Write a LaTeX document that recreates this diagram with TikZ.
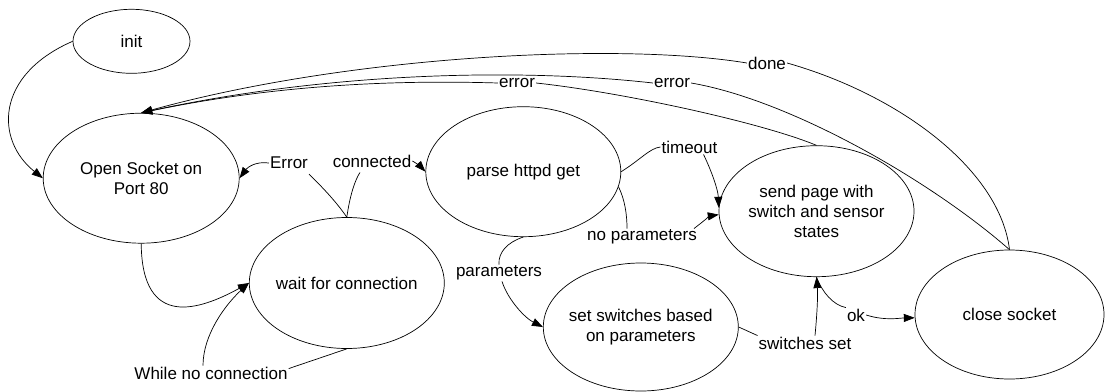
\documentclass[tikz,border=0pt]{standalone}
\usepackage{fontspec}
\setmainfont{Liberation Sans}
\usetikzlibrary{shapes.geometric,arrows.meta}
\begin{document}
\begin{tikzpicture}[x=1pt,y=-1pt,
  st/.style={draw, ellipse, line width=0.7pt, inner xsep=-20pt, inner ysep=-20pt, align=center, font=\fontsize{17}{20}\selectfont},
  lbl/.style={inner sep=1pt, font=\fontsize{17}{20}\selectfont},
  conn/.style={line width=0.7pt},
  arr/.style={conn, -{Triangle[length=11pt,width=8pt]}}]
\useasboundingbox (0,0) rectangle (1105,391);

\node[st, minimum width=117pt, minimum height=64pt] (init) at (131.5,41.3) {init};
\node[st, minimum width=196pt, minimum height=130pt] (open) at (141.2,178.2) {Open Socket on\\Port 80};
\node[st, minimum width=195pt, minimum height=131pt] (wait) at (346.8,283) {wait for connection};
\node[st, minimum width=195pt, minimum height=130pt] (parse) at (523.3,171.7) {parse httpd get};
\node[st, minimum width=195pt, minimum height=128pt] (setsw) at (640.8,327) {set switches based\\on parameters};
\node[st, minimum width=195pt, minimum height=131pt] (send) at (816.5,211.2) {send page with\\switch and sensor\\states};
\node[st, minimum width=189pt, minimum height=129pt] (close) at (1009.5,314.5) {close socket};

\node[lbl] (lerr1) at (289,163) {Error};
\node[lbl] (lconn) at (372,161) {connected};
\node[lbl] (lwnc) at (211,373) {While no connection};
\node[lbl] (ltime) at (689.5,147) {timeout};
\node[lbl] (lnop) at (642,237) {no parameters};
\node[lbl] (lpar) at (499,273) {parameters};
\node[lbl] (lsws) at (805,343) {switches set};
\node[lbl] (lok) at (856,315) {ok};
\node[lbl] (ldone) at (767,63) {done};
\node[lbl] (lerrA) at (672,83) {error};
\node[lbl] (lerrB) at (517,83) {error};

% init -> open
\draw[arr] (init.west) .. controls (-5,75) and (-5,140) .. (open.west);
% open -> wait
\draw[arr] (open.south) .. controls (142,330) and (200,310) .. (wait.west);
% while no connection
\draw[conn] (wait.south) -- ([yshift=-3pt]lwnc.north east);
\draw[arr] ([xshift=-8pt]lwnc.north) .. controls (203,335) and (225,305) .. (wait.west);
% Error
\draw[conn] (wait.north) .. controls (335,200) and (320,185) .. ([yshift=-4pt]lerr1.south east);
\draw[arr] (lerr1.west) .. controls (255,161) and (247,168) .. (open.east);
% connected
\draw[conn] (wait.north) .. controls (350,195) and (355,180) .. ([shift={(-12pt,-4pt)}]lconn.south);
\draw[arr] (lconn.east) .. controls (418,164) and (422,168) .. (parse.west);
% timeout
\draw[conn] (parse.east) .. controls (640,160) and (650,148) .. (ltime.west);
\draw[arr] ([xshift=14pt]ltime.south) .. controls (712,172) and (718,190) .. (send.178);
% no parameters
\draw[conn] (parse.-9) .. controls (625,200) and (627,215) .. ([xshift=-15pt]lnop.north);
\draw[arr] ([xshift=-4pt]lnop.north east) .. controls (705,220) and (710,216) .. (send.182);
% parameters
\draw[conn] (parse.south) .. controls (508,242) and (498,252) .. (lpar.north);
\draw[arr] ([xshift=3pt]lpar.south) .. controls (508,300) and (525,318) .. (setsw.west);
% switches set
\draw[conn] (setsw.east) -- (lsws.north west);
\draw[arr] ([xshift=10pt]lsws.north) .. controls (817,315) and (818,295) .. (send.south);
% ok
\draw[conn] (send.south) .. controls (822,292) and (833,305) .. (lok.north west);
\draw[arr] (lok.east) .. controls (885,321) and (900,318) .. (close.182);
% done
\draw[conn] (close.north) .. controls (1000,170) and (900,95) .. (ldone.east);
\draw[arr] (ldone.west) .. controls (620,42) and (350,55) .. (open.north);
% error from close
\draw[conn] (close.north) .. controls (930,180) and (790,100) .. (lerrA.east);
\draw[arr] (lerrA.west) .. controls (520,68) and (330,72) .. (open.north);
% error from send
\draw[conn] (send.north) .. controls (760,122) and (620,92) .. (lerrB.east);
\draw[arr] (lerrB.west) .. controls (400,80) and (280,84) .. (open.north);
\end{tikzpicture}
\end{document}
